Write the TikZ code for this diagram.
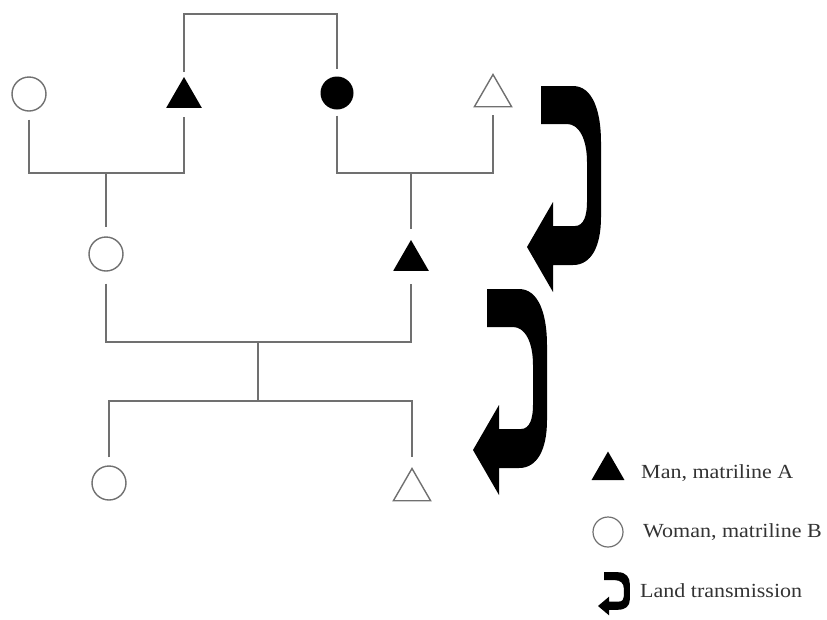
\documentclass[tikz,border=0pt]{standalone}
\usepackage{fontspec}
\setmainfont{Liberation Serif}
\usetikzlibrary{shapes.geometric}
\definecolor{linegray}{HTML}{707070}
\tikzset{
  link/.style={draw=linegray, line width=1.8pt},
  woman/.style={circle, draw=linegray, line width=1.4pt, fill=white, minimum size=34pt, inner sep=0pt},
  womanA/.style={circle, fill=black, minimum size=33pt, inner sep=0pt},
  manA/.style={regular polygon, regular polygon sides=3, fill=black, minimum size=41pt, inner sep=0pt},
  manB/.style={regular polygon, regular polygon sides=3, draw=linegray, line width=1.4pt, fill=white, minimum size=43pt, inner sep=0pt},
  legendtext/.style={anchor=base west, inner sep=0pt, xscale=1.1, font=\fontsize{20}{24}\selectfont, text=black!80},
  landarrow/.pic={
    \fill[black] (0,0) -- (26,-45) -- (26,-21) -- (48,-21)
      .. controls (57,-21) and (60,-32) .. (60,-45) -- (60,-85)
      .. controls (60,-108) and (52,-123) .. (40,-123) -- (14,-123) -- (14,-161) -- (46,-161)
      .. controls (66,-161) and (74,-135) .. (74,-105) -- (74,-30)
      .. controls (74,0) and (64,18) .. (46,18) -- (26,18) -- (26,45) -- cycle;
  }
}
\begin{document}
\begin{tikzpicture}[x=1pt, y=-1pt]
\useasboundingbox (0,0) rectangle (827,619);

% first generation
\node[woman] (g1w) at (29,94) {};
\node[manA]  (g1m) at (184,97.5) {};
\node[womanA] (g1f) at (337,93) {};
\node[manB]  (g1h) at (493,96) {};

% second generation
\node[woman] (g2w) at (106,254) {};
\node[manA]  (g2m) at (411,260.5) {};

% third generation
\node[woman] (g3w) at (109,483) {};
\node[manB]  (g3m) at (412,490) {};

% junction points
\coordinate (top) at (260,14);
\coordinate (j1) at (106,173);
\coordinate (j2) at (411,173);
\coordinate (j3) at (258,342);
\coordinate (j4) at (258,401);

% siblings: man and woman of matriline A
\draw[link] ([yshift=5pt]g1m.north) |- (top) -| ([yshift=7pt]g1f.north);

% marriages of the first generation
\draw[link] ([yshift=-8pt]g1w.south) |- (j1) -| ([yshift=-9pt]g1m.south);
\draw[link] ([yshift=-6pt]g1f.south) |- (j2) -| ([yshift=-8pt]g1h.south);
\draw[link] (j1) -- ([yshift=9pt]g2w.north);
\draw[link] (j2) -- ([yshift=11pt]g2m.north);

% marriage of the second generation
\draw[link] ([yshift=-12pt]g2w.south) |- (j3) -| ([yshift=-13pt]g2m.south);
\draw[link] (j3) -- (j4);
\draw[link] ([yshift=8pt]g3w.north) |- (j4) -| ([yshift=10pt]g3m.north);

% land transmission
\pic at (527,247) {landarrow};
\pic at (473,450) {landarrow};

% legend
\node[manA, minimum size=38pt] (lm) at (608,470.5) {};
\node[legendtext] (lmt) at (641,478) {Man, matriline A};
\node[woman, minimum size=30pt, line width=1.2pt] (lw) at (608,532) {};
\node[legendtext] (lwt) at (643,537) {Woman, matriline B};
\pic[xscale=0.43, yscale=0.21] at (598,606) {landarrow};
\node[legendtext] (lat) at (640,597) {Land transmission};
\end{tikzpicture}
\end{document}
